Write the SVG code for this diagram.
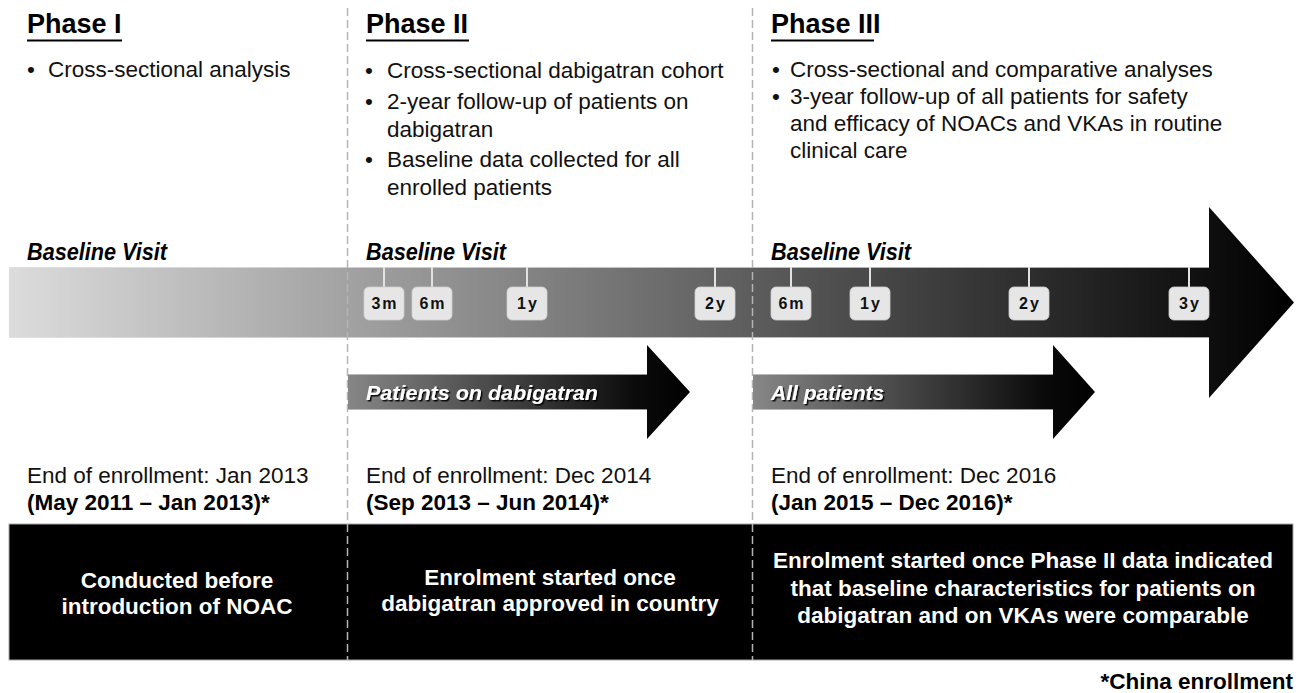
<svg xmlns="http://www.w3.org/2000/svg" width="1300" height="693" viewBox="0 0 1300 693">
<defs>
<linearGradient id="gMain" gradientUnits="userSpaceOnUse" x1="9" y1="0" x2="1294" y2="0">
<stop offset="0" stop-color="#dcdcdc"/>
<stop offset="1" stop-color="#000"/>
</linearGradient>
<linearGradient id="gP2" gradientUnits="userSpaceOnUse" x1="347" y1="0" x2="690" y2="0">
<stop offset="0" stop-color="#878787"/>
<stop offset="0.85" stop-color="#0a0a0a"/>
<stop offset="1" stop-color="#000"/>
</linearGradient>
<linearGradient id="gP3" gradientUnits="userSpaceOnUse" x1="753" y1="0" x2="1095" y2="0">
<stop offset="0" stop-color="#878787"/>
<stop offset="0.85" stop-color="#0a0a0a"/>
<stop offset="1" stop-color="#000"/>
</linearGradient>
<filter id="shadow" x="-10%" y="-30%" width="120%" height="160%">
<feDropShadow dx="1.5" dy="1.5" stdDeviation="0.6" flood-color="#000" flood-opacity="0.9"/>
</filter>
</defs>
<style>
text{font-family:"Liberation Sans",Arial,sans-serif;fill:#000}
.title{font-size:27px;font-weight:bold}
.ul{stroke:#000;stroke-width:2}
.body{font-size:22.5px;fill:#111}
.bv{font-size:23px;font-weight:bold;font-style:italic}
.tick{stroke:#e2e2e2;stroke-width:2}
.tbox{fill:#e6e6e6;stroke:#cfcfcf;stroke-width:0.8}
.tlab{font-size:16px;font-weight:bold;letter-spacing:2px;text-anchor:middle;fill:#111}
.arrlab{font-size:21px;font-weight:bold;font-style:italic;fill:#fff}
.bold{font-size:22.5px;font-weight:bold}
.box{font-size:22.5px;font-weight:bold;fill:#fff;text-anchor:middle}
.dash{stroke:#b4b4b4;stroke-width:1.5;stroke-dasharray:8 4;fill:none}
</style>

<g id="bottom-box">
<rect x="9" y="524" width="1284" height="136" fill="#000" stroke="#a8a8a8" stroke-width="1"/>
</g>

<g id="main-arrow">
<path d="M9,267 H1209 V207 L1294,302.5 L1209,398 V338 H9 Z" fill="url(#gMain)"/>
<line x1="9" y1="267.5" x2="1209" y2="267.5" stroke="#e4e4e4" stroke-width="1" opacity="0.7"/>
<line x1="9" y1="337.5" x2="1209" y2="337.5" stroke="#e4e4e4" stroke-width="1" opacity="0.7"/>
</g>

<g id="connectors">
<line class="dash" x1="347.5" y1="8" x2="347.5" y2="660"/>
<line class="dash" x1="752.5" y1="8" x2="752.5" y2="660"/>
</g>

<g id="phase1">
<text class="title" x="27" y="33">Phase I</text>
<line class="ul" x1="27" y1="40.5" x2="122" y2="40.5"/>
<text class="body" x="27" y="77">•</text>
<text class="body" x="48" y="77">Cross-sectional analysis</text>
<text class="bv" x="27" y="260" textLength="140" lengthAdjust="spacingAndGlyphs">Baseline Visit</text>
<text class="body" x="27" y="483">End of enrollment: Jan 2013</text>
<text class="bold" x="27" y="510">(May 2011 – Jan 2013)*</text>
<text class="box" x="177" y="588">Conducted before</text>
<text class="box" x="177" y="614">introduction of NOAC</text>
</g>

<g id="phase2">
<text class="title" x="366" y="33">Phase II</text>
<line class="ul" x1="366" y1="40.5" x2="469" y2="40.5"/>
<text class="body" x="365" y="78">•</text>
<text class="body" x="387" y="78">Cross-sectional dabigatran cohort</text>
<text class="body" x="365" y="109">•</text>
<text class="body" x="387" y="109">2-year follow-up of patients on</text>
<text class="body" x="387" y="137">dabigatran</text>
<text class="body" x="365" y="167">•</text>
<text class="body" x="387" y="167">Baseline data collected for all</text>
<text class="body" x="387" y="195">enrolled patients</text>
<text class="bv" x="366" y="260" textLength="140" lengthAdjust="spacingAndGlyphs">Baseline Visit</text>
<text class="body" x="366" y="483">End of enrollment: Dec 2014</text>
<text class="bold" x="366" y="510">(Sep 2013 – Jun 2014)*</text>
<text class="box" x="550" y="585">Enrolment started once</text>
<text class="box" x="550" y="611">dabigatran approved in country</text>
</g>

<g id="phase3">
<text class="title" x="771" y="33">Phase III</text>
<line class="ul" x1="771" y1="40.5" x2="874" y2="40.5"/>
<text class="body" x="772" y="77">•</text>
<text class="body" x="790" y="77">Cross-sectional and comparative analyses</text>
<text class="body" x="772" y="104">•</text>
<text class="body" x="790" y="104">3-year follow-up of all patients for safety</text>
<text class="body" x="790" y="131">and efficacy of NOACs and VKAs in routine</text>
<text class="body" x="790" y="158">clinical care</text>
<text class="bv" x="771" y="260" textLength="140" lengthAdjust="spacingAndGlyphs">Baseline Visit</text>
<text class="body" x="771" y="483">End of enrollment: Dec 2016</text>
<text class="bold" x="771" y="510">(Jan 2015 – Dec 2016)*</text>
<text class="box" x="1023" y="568">Enrolment started once Phase II data indicated</text>
<text class="box" x="1023" y="596">that baseline characteristics for patients on</text>
<text class="box" x="1023" y="623">dabigatran and on VKAs were comparable</text>
</g>

<g id="ticks">
<g id="t-3m"><line class="tick" x1="384" y1="267" x2="384" y2="287"/><rect class="tbox" x="364" y="287" width="40" height="33" rx="5"/><text class="tlab" x="385" y="309">3m</text></g>
<g id="t-6m-a"><line class="tick" x1="432" y1="267" x2="432" y2="287"/><rect class="tbox" x="412" y="287" width="40" height="33" rx="5"/><text class="tlab" x="433" y="309">6m</text></g>
<g id="t-1y-a"><line class="tick" x1="527" y1="267" x2="527" y2="287"/><rect class="tbox" x="507" y="287" width="40" height="33" rx="5"/><text class="tlab" x="528" y="309">1y</text></g>
<g id="t-2y-a"><line class="tick" x1="715" y1="267" x2="715" y2="287"/><rect class="tbox" x="695" y="287" width="40" height="33" rx="5"/><text class="tlab" x="716" y="309">2y</text></g>
<g id="t-6m-b"><line class="tick" x1="791" y1="267" x2="791" y2="287"/><rect class="tbox" x="771" y="287" width="40" height="33" rx="5"/><text class="tlab" x="792" y="309">6m</text></g>
<g id="t-1y-b"><line class="tick" x1="870" y1="267" x2="870" y2="287"/><rect class="tbox" x="850" y="287" width="40" height="33" rx="5"/><text class="tlab" x="871" y="309">1y</text></g>
<g id="t-2y-b"><line class="tick" x1="1029" y1="267" x2="1029" y2="287"/><rect class="tbox" x="1009" y="287" width="40" height="33" rx="5"/><text class="tlab" x="1030" y="309">2y</text></g>
<g id="t-3y"><line class="tick" x1="1189" y1="267" x2="1189" y2="287"/><rect class="tbox" x="1169" y="287" width="40" height="33" rx="5"/><text class="tlab" x="1190" y="309">3y</text></g>
</g>

<g id="arrow-dabigatran">
<path d="M348,374 H647 V345 L690,392 L647,439 V410 H348 Z" fill="url(#gP2)"/>
<line x1="348" y1="374.5" x2="647" y2="374.5" stroke="#d0d0d0" stroke-width="1" opacity="0.7"/>
<line x1="348" y1="409.5" x2="647" y2="409.5" stroke="#d0d0d0" stroke-width="1" opacity="0.7"/>
<text class="arrlab" x="366" y="400" textLength="232" lengthAdjust="spacingAndGlyphs" filter="url(#shadow)">Patients on dabigatran</text>
</g>

<g id="arrow-all">
<path d="M753,374 H1053 V345 L1095,392 L1053,439 V410 H753 Z" fill="url(#gP3)"/>
<line x1="753" y1="374.5" x2="1053" y2="374.5" stroke="#d0d0d0" stroke-width="1" opacity="0.7"/>
<line x1="753" y1="409.5" x2="1053" y2="409.5" stroke="#d0d0d0" stroke-width="1" opacity="0.7"/>
<text class="arrlab" x="771" y="400" filter="url(#shadow)">All patients</text>
</g>

<g id="footnote">
<text class="bold" x="1293" y="689" text-anchor="end">*China enrollment</text>
</g>
</svg>
